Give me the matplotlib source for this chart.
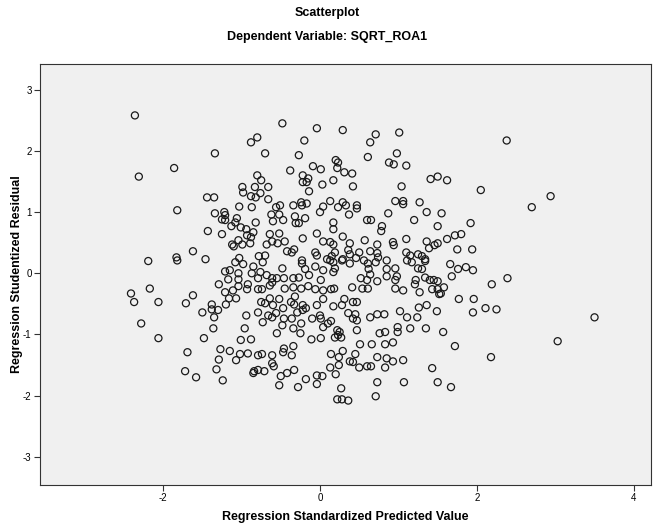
import numpy as np
import matplotlib
matplotlib.use("Agg")
import matplotlib.pyplot as plt

plt.rcParams['font.family'] = ['Liberation Sans', 'DejaVu Sans']
plt.rcParams['axes.unicode_minus'] = False

# regression standardized predicted value / studentized residual
pred = [
    -2.36, -0.80, -0.88, -0.70, -1.34, -1.86, -2.31, -0.80, -0.75, -0.48,
    -0.04, 0.29, 0.71, 1.01, 0.64, -0.20, -0.27, 0.61, 0.98, 0.20,
    0.23, 0.88, 0.94, 1.10, -0.09, 0.01, -0.38, 0.22, 0.31, 0.41,
    -0.22, -0.15, 0.17, -0.22, -0.17, 0.03, 0.42, 1.04, 2.38, 1.41,
    1.50, 1.62, -0.99, -0.98, -0.83, -0.66, -1.44, -1.35, -0.88, -0.82,
    -0.76, -0.66, -1.03, -0.87, -1.82, -1.34, -1.22, -1.21, -1.25, -1.21,
    -1.06, -1.08, -0.62, -0.60, -0.82, -1.13, -1.01, -0.94, -0.85, -1.43,
    -1.25, -0.93, -0.88, -1.04, -1.12, -1.10, -0.99, -0.89, -0.68, -0.61,
    -1.62, -2.19, -1.83, -1.82, -1.46, -1.03, -0.78, -0.70, -0.14, -0.34,
    -0.24, -0.17, -0.23, 0.04, 0.13, 0.29, 0.33, 0.47, 0.47, 0.23,
    0.37, 0.00, 0.96, 1.06, 1.06, 1.27, 0.87, 1.20, -0.56, -0.51,
    -0.52, -0.47, -0.32, -0.31, -0.27, -0.19, 0.17, 0.17, 0.60, 0.65,
    0.79, 0.78, -0.52, -0.64, -0.04, 0.29, -0.22, 0.04, 0.13, 0.17,
    0.38, 0.57, 0.73, 0.93, 0.94, 1.10, -0.54, -0.45, -0.42, -0.33,
    -0.36, -0.06, -0.04, 0.19, 0.15, 0.36, 0.38, 0.50, 0.64, 0.73,
    0.74, 1.10, 1.15, 1.25, -0.23, 0.46, 0.56, 0.85, 0.09, 0.28,
    2.05, 2.94, 2.70, 1.36, 1.55, 1.92, 1.50, 1.80, 1.72, 1.62,
    1.36, 1.50, 1.46, 1.39, 1.75, 1.94, 1.30, 1.34, -1.08, -0.98,
    -0.85, -0.73, -0.87, -1.21, -1.15, -1.04, -0.76, -0.68, -1.17, -1.04,
    -0.79, -0.61, -1.29, -1.04, -0.92, -0.64, -0.93, -2.17, -2.41, -2.37,
    -2.06, -1.62, -1.71, -1.21, -1.11, -1.16, -1.07, -0.79, -0.74, -1.38,
    -1.38, -1.30, -1.20, -1.50, -1.35, -0.94, -0.79, -0.75, -0.70, -0.66,
    -0.61, -0.73, -2.28, -1.36, -0.96, -0.48, -0.23, -0.06, 0.13, 0.17,
    0.29, 0.38, 0.61, 0.71, 1.11, 1.17, -0.19, 0.04, 0.17, 0.19,
    0.62, 0.64, 0.85, 0.96, 1.25, -0.55, -0.46, -0.34, -0.27, -0.14,
    0.01, 0.52, 0.60, 0.73, 0.85, 0.96, 0.98, -0.61, -0.45, -0.34,
    -0.24, -0.15, -0.06, 0.04, 0.14, 0.18, 0.41, 0.54, 0.61, 0.96,
    1.06, 1.21, 1.22, 0.04, -0.32, -0.52, -0.37, -0.64, -0.60, -0.33,
    -0.22, -0.18, -0.22, -0.29, -0.47, -0.56, 0.28, 0.31, 0.42, 0.47,
    -0.04, 0.17, 0.36, 0.45, 0.47, 0.42, 0.00, 0.01, 0.14, -0.10,
    -0.36, -0.46, -0.48, -0.34, -0.24, 0.04, 0.10, 0.22, 0.25, 0.47,
    0.64, 0.73, 0.82, 1.02, 1.11, 1.24, 0.99, 1.15, -0.55, -0.25,
    0.76, 0.83, 0.99, 1.34, 1.66, 1.76, 1.86, 1.95, 1.30, 1.34,
    1.68, 2.39, 2.19, 1.40, 1.45, 1.50, 1.58, 1.43, 1.50, 1.52,
    1.27, 1.54, 1.77, 1.96, 1.26, 1.36, 1.49, 1.95, 2.11, 2.25,
    1.35, 1.57, -2.06, -1.48, -1.01, -0.88, -1.69, -1.27, -1.15, -1.02,
    -0.92, -1.29, -1.07, -0.79, -0.74, -0.61, -1.72, -1.58, -1.32, -1.24,
    -0.84, -0.79, -0.71, -0.85, -0.61, -0.59, -0.11, 0.01, 0.19, 0.23,
    0.27, -0.34, -0.46, -0.47, -0.36, 0.51, 0.66, 0.83, 0.93, 0.14,
    0.29, 0.45, 0.24, 0.38, 0.42, 0.73, 0.85, 0.93, 1.06, 0.13,
    0.24, 0.50, 0.60, 0.65, 0.83, -0.33, -0.42, -0.50, -0.04, 0.03,
    0.20, -0.18, -0.04, -0.52, -0.28, 0.73, 1.07, 0.27, 0.71, 0.22,
    0.28, 0.36, 1.72, 2.18, 3.03, 1.43, 1.50, 1.67, 3.50,
]
resid = [
    2.58, 2.22, 2.14, 1.96, 1.96, 1.72, 1.58, 1.60, 1.52, 2.45,
    2.37, 2.34, 2.27, 2.30, 2.14, 2.17, 1.93, 1.90, 1.96, 1.85,
    1.81, 1.81, 1.78, 1.76, 1.75, 1.70, 1.68, 1.72, 1.65, 1.63,
    1.60, 1.55, 1.52, 1.49, 1.49, 1.45, 1.42, 1.42, 2.17, 1.54,
    1.58, 1.52, 1.41, 1.32, 1.41, 1.41, 1.24, 1.24, 1.26, 1.24,
    1.31, 1.21, 1.09, 1.08, 1.03, 0.98, 1.00, 0.95, 0.88, 0.87,
    0.90, 0.83, 0.96, 0.85, 0.83, 0.77, 0.75, 0.72, 0.67, 0.69,
    0.64, 0.62, 0.59, 0.54, 0.47, 0.44, 0.47, 0.49, 0.47, 0.52,
    0.36, 0.20, 0.26, 0.21, 0.23, 0.25, 0.28, 0.29, 1.34, 1.11,
    1.16, 1.14, 1.11, 1.09, 1.18, 1.16, 1.11, 1.11, 1.06, 1.08,
    0.96, 1.00, 1.18, 1.18, 1.13, 1.16, 0.98, 0.87, 1.08, 1.11,
    0.96, 0.87, 0.93, 0.82, 0.82, 0.90, 0.83, 0.72, 0.87, 0.87,
    0.77, 0.69, 0.65, 0.64, 0.65, 0.60, 0.57, 0.52, 0.51, 0.47,
    0.49, 0.54, 0.47, 0.51, 0.46, 0.56, 0.49, 0.52, 0.36, 0.39,
    0.34, 0.34, 0.29, 0.34, 0.28, 0.38, 0.31, 0.34, 0.36, 0.33,
    0.26, 0.34, 0.29, 0.31, 0.21, 0.25, 0.21, 0.21, 0.23, 0.21,
    1.36, 1.26, 1.08, 1.00, 0.98, 0.82, 0.77, 0.64, 0.62, 0.56,
    0.52, 0.49, 0.46, 0.41, 0.39, 0.39, 0.28, 0.23, 0.18, 0.15,
    0.11, 0.18, 0.00, 0.03, 0.05, 0.00, 0.02, -0.03, -0.10, -0.10,
    -0.08, -0.08, -0.18, -0.21, -0.18, -0.20, -0.26, -0.25, -0.33, -0.47,
    -0.47, -0.36, -0.49, -0.31, -0.28, -0.41, -0.41, -0.26, -0.26, -0.51,
    -0.59, -0.60, -0.51, -0.64, -0.72, -0.69, -0.64, -0.47, -0.49, -0.69,
    -0.72, -0.80, -0.82, -0.90, -0.90, 0.08, 0.16, 0.11, 0.21, 0.18,
    0.23, 0.16, 0.16, 0.18, 0.21, 0.18, 0.07, 0.05, 0.02, 0.08,
    0.07, -0.02, 0.07, 0.08, 0.08, -0.08, -0.08, -0.08, -0.07, -0.03,
    -0.11, -0.08, -0.11, -0.13, -0.05, -0.11, -0.05, -0.15, -0.25, -0.23,
    -0.25, -0.21, -0.26, -0.28, -0.26, -0.25, -0.23, -0.25, -0.25, -0.25,
    -0.28, -0.18, -0.11, -0.42, -0.38, -0.42, -0.47, -0.41, -0.52, -0.51,
    -0.52, -0.57, -0.60, -0.64, -0.57, -0.65, -0.52, -0.42, -0.47, -0.47,
    -0.52, -0.54, -0.65, -0.67, -0.77, -0.74, -0.69, -0.74, -0.78, -0.74,
    -0.74, -0.74, -0.85, -0.90, -0.82, -0.88, -0.82, -0.93, -0.96, -0.93,
    -0.72, -0.67, -0.67, -0.62, -0.72, -0.72, -0.88, -0.90, -0.98, -0.98,
    -0.98, -0.96, -0.96, 0.20, 0.15, 0.07, 0.10, 0.05, 0.07, -0.07,
    -0.05, -0.08, -0.18, -0.11, -0.11, -0.13, -0.23, -0.26, -0.26, -0.34,
    -0.31, -0.33, -0.42, -0.42, -0.56, -0.52, -0.62, -0.64, -0.57, -0.59,
    -0.90, -0.96, -1.06, -1.06, -1.09, -1.08, -1.29, -1.24, -1.27, -1.32,
    -1.31, -1.41, -1.42, -1.34, -1.32, -1.34, -1.60, -1.70, -1.57, -1.75,
    -1.60, -1.58, -1.60, -1.63, -1.47, -1.52, -1.08, -1.06, -1.05, -1.01,
    -1.05, -1.19, -1.23, -1.29, -1.34, -1.16, -1.16, -1.16, -1.13, -1.32,
    -1.27, -1.32, -1.37, -1.44, -1.45, -1.37, -1.39, -1.44, -1.42, -1.54,
    -1.50, -1.54, -1.52, -1.52, -1.54, -1.58, -1.63, -1.68, -1.67, -1.68,
    -1.65, -1.73, -1.81, -1.83, -1.86, -1.78, -1.78, -1.88, -2.01, -2.06,
    -2.06, -2.08, -1.19, -1.37, -1.11, -1.55, -1.78, -1.86, -0.72,
]

x_ticks = [-2, 0, 2, 4]
y_ticks = [-3, -2, -1, 0, 1, 2, 3]

W, H = 654, 527
fig = plt.figure(figsize=(W / 100, H / 100), dpi=100)
fig.patch.set_facecolor('white')
ax = fig.add_axes([40 / W, 42 / H, 611 / W, 421 / H])
ax.set_facecolor('#f0f0f0')

ax.scatter(pred, resid, s=26, facecolors='none', edgecolors='#1a1a1a', linewidths=0.9)

ax.set_xlim(-3.57, 4.22)
ax.set_ylim(-3.46, 3.42)
ax.set_xticks(x_ticks)
ax.set_yticks(y_ticks)
ax.set_xticklabels([str(t) for t in x_ticks])
ax.set_yticklabels([str(t) for t in y_ticks])
ax.tick_params(axis='both', labelsize=7, length=4, width=0.8, color='#333333', pad=2)
for sp in ax.spines.values():
    sp.set_color('#333333')
    sp.set_linewidth(0.8)

ax.set_xlabel('Regression Standardized Predicted Value', fontsize=9, fontweight='bold')
ax.set_ylabel('Regression Studentized Residual', fontsize=9, fontweight='bold')
# place axis titles like the SPSS output
ax.xaxis.set_label_coords(0.5, -(511 - 485) / 421)
ax.yaxis.set_label_coords(-(40 - 23) / 611, 0.5)

fig.text(0.5, 1 - 13 / H, 'Scatterplot', ha='center', va='center', fontsize=9, fontweight='bold')
fig.text(0.5, 1 - 37 / H, 'Dependent Variable: SQRT_ROA1', ha='center', va='center', fontsize=9, fontweight='bold')

fig.savefig('out.png', dpi=100)
